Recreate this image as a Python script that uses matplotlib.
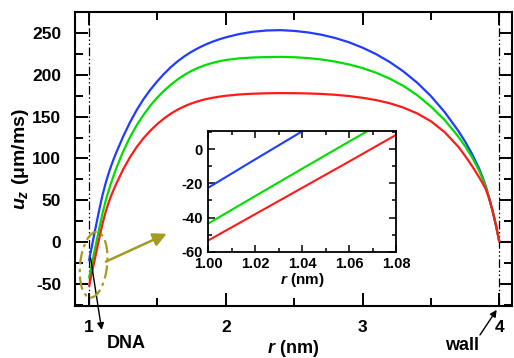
import matplotlib
matplotlib.use("Agg")
import matplotlib.pyplot as plt
import matplotlib.transforms as mtransforms
from matplotlib.patches import Ellipse
from matplotlib.ticker import MultipleLocator

# ---- data ----
r = [1.00, 1.02, 1.04, 1.06, 1.08, 1.10, 1.12, 1.14, 1.16, 1.18, 1.20,
     1.25, 1.30, 1.35, 1.40, 1.45, 1.50, 1.55, 1.60, 1.65, 1.70, 1.75, 1.80,
     1.85, 1.90, 1.95, 2.00, 2.10, 2.20, 2.30, 2.40, 2.50, 2.60, 2.70, 2.80,
     2.90, 3.00, 3.10, 3.20, 3.30, 3.40, 3.50, 3.60, 3.70, 3.75, 3.80, 3.85,
     3.875, 3.90, 3.925, 3.95, 3.975, 4.00]
u_blue = [-22.5, -5.9, 10.5, 26.5, 42.3, 56.8, 69.3, 80.3, 90.1, 99.1, 107.3,
          126.3, 143.3, 158.3, 171.3, 182.5, 192.5, 201.5, 209.5, 216.5, 222.5, 227.7, 232.2,
          236.1, 239.5, 242.4, 244.9, 248.9, 251.6, 253.1, 253.5, 252.6, 250.8, 248.0, 244.1,
          239.0, 232.5, 224.7, 215.2, 203.9, 190.5, 174.5, 155.5, 133.0, 120.0, 105.5, 88.5,
          78.5, 67.0, 53.0, 37.5, 20.0, 0.0]
u_green = [-43.5, -27.4, -11.4, 4.5, 20.2, 35.0, 48.0, 59.5, 70.0, 79.5, 88.5,
           108.5, 125.5, 140.0, 152.5, 163.5, 173.0, 181.3, 188.5, 194.8, 200.2, 204.8, 208.6,
           211.7, 214.2, 216.2, 217.8, 219.8, 220.8, 221.3, 221.5, 221.1, 220.1, 218.4, 215.9,
           212.5, 208.1, 202.5, 195.4, 186.6, 175.6, 162.0, 146.0, 126.0, 114.5, 101.5, 86.0,
           76.5, 66.0, 52.5, 37.5, 20.0, 0.0]
u_red = [-53.4, -38.0, -22.6, -7.2, 8.4, 22.5, 35.0, 45.5, 54.5, 62.5, 70.0,
         87.0, 101.5, 114.0, 124.5, 133.5, 141.3, 148.0, 153.8, 158.6, 162.6, 165.9, 168.6,
         170.8, 172.5, 173.9, 175.0, 176.6, 177.5, 178.0, 178.2, 178.1, 177.8, 177.2, 176.2,
         174.7, 172.6, 169.8, 166.0, 160.8, 153.8, 144.5, 131.5, 114.0, 103.0, 91.0, 78.0,
         71.0, 63.5, 52.0, 37.3, 19.8, 0.0]
series = [(u_blue, '#1f3cff'), (u_green, '#00dd00'), (u_red, '#ff1a1a')]

main_xticks = [1, 2, 3, 4]
main_yticks = [-50, 0, 50, 100, 150, 200, 250]
inset_xticks = [1.00, 1.02, 1.04, 1.06, 1.08]
inset_yticks = [-60, -40, -20, 0]

FONT = 'Liberation Sans'
plt.rcParams['font.family'] = [FONT, 'DejaVu Sans']
plt.rcParams['font.weight'] = 'bold'
plt.rcParams['mathtext.fontset'] = 'custom'
plt.rcParams['mathtext.it'] = FONT + ':bold:italic'
plt.rcParams['mathtext.rm'] = FONT + ':bold'
plt.rcParams['mathtext.bf'] = FONT + ':bold'

W, H = 514, 358
fig = plt.figure(figsize=(W / 100, H / 100), dpi=100)
ax = fig.add_axes([75 / W, (H - 306) / H, (512 - 75) / W, (306 - 12) / H])

for u, c in series:
    ax.plot(r, u, color=c, lw=1.6, solid_capstyle='butt', solid_joinstyle='round', zorder=3)

ax.set_xlim(0.898, 4.092)
ax.set_ylim(-76.4, 275.2)
ax.set_xticks(main_xticks)
ax.set_xticklabels([str(t) for t in main_xticks], fontweight='bold')
ax.set_yticks(main_yticks)
ax.set_yticklabels([str(t) for t in main_yticks], fontweight='bold')
ax.xaxis.set_minor_locator(MultipleLocator(0.5))
ax.yaxis.set_minor_locator(MultipleLocator(25))
ax.tick_params(which='both', direction='in', top=True, right=True, width=1.4,
               labelsize=12.5, pad=10)
ax.tick_params(which='major', length=9.5)
ax.tick_params(which='minor', length=5.5)
for s in ax.spines.values():
    s.set_linewidth(1.5)

dashdot = (0, (7, 2, 1.2, 2, 1.2, 2))
for xv in (1, 4):
    ax.axvline(xv, color='black', lw=0.9, ls=dashdot, zorder=2)

ax.set_xlabel(r'$r\ \mathrm{(nm)}$', fontsize=13, labelpad=2)
ax.set_ylabel(r'$u_z\ \mathrm{(\mu m/ms)}$', fontsize=14, labelpad=1)

olive = '#a39b22'
# ellipse around the DNA surface region (size in inches, centre in data)
ell = Ellipse((0, 0), 0.27, 0.66, angle=-6, fill=False, edgecolor=olive, lw=1.6,
              ls=(0, (6, 2, 1.5, 2)),
              transform=fig.dpi_scale_trans + mtransforms.ScaledTranslation(1.034, -27.0, ax.transData),
              zorder=4)
ax.add_patch(ell)
ax.annotate('', xy=(1.568, 10), xytext=(1.124, -23.3),
            arrowprops=dict(arrowstyle='-|>', color=olive, lw=1.8, mutation_scale=20,
                            shrinkA=0, shrinkB=0), zorder=4)

# DNA / wall labels with arrows
ax.annotate('', xy=(1.093, -105), xytext=(1.012, -19), annotation_clip=False,
            arrowprops=dict(arrowstyle='-|>', color='black', lw=1.0, mutation_scale=10,
                            shrinkA=0, shrinkB=0))
ax.text(1.27, -121, 'DNA', fontsize=13, fontweight='bold', ha='center', va='center', clip_on=False)
ax.annotate('', xy=(3.98, -81), xytext=(3.858, -111), annotation_clip=False,
            arrowprops=dict(arrowstyle='-|>', color='black', lw=1.0, mutation_scale=10,
                            shrinkA=0, shrinkB=0))
ax.text(3.724, -124, 'wall', fontsize=13, fontweight='bold', ha='center', va='center', clip_on=False)

# ---- inset ----
ins = fig.add_axes([208.3 / W, (H - 251.7) / H, (396 - 208.3) / W, (251.7 - 131) / H])
for u, c in series:
    ins.plot(r, u, color=c, lw=1.5, solid_capstyle='butt')
ins.set_xlim(1.00, 1.08)
ins.set_ylim(-60, 10.7)
ins.set_xticks(inset_xticks)
ins.set_xticklabels(['%.2f' % t for t in inset_xticks], fontweight='bold')
ins.set_yticks(inset_yticks)
ins.set_yticklabels([str(t) for t in inset_yticks], fontweight='bold')
ins.xaxis.set_minor_locator(MultipleLocator(0.01))
ins.yaxis.set_minor_locator(MultipleLocator(10))
ins.tick_params(which='both', direction='in', top=True, right=True, width=1.1,
                labelsize=10.5, pad=4)
ins.tick_params(which='major', length=5)
ins.tick_params(which='minor', length=3)
for s in ins.spines.values():
    s.set_linewidth(1.3)
ins.set_xlabel(r'$r\ \mathrm{(nm)}$', fontsize=11, labelpad=0)

fig.savefig('out.png', dpi=100)
